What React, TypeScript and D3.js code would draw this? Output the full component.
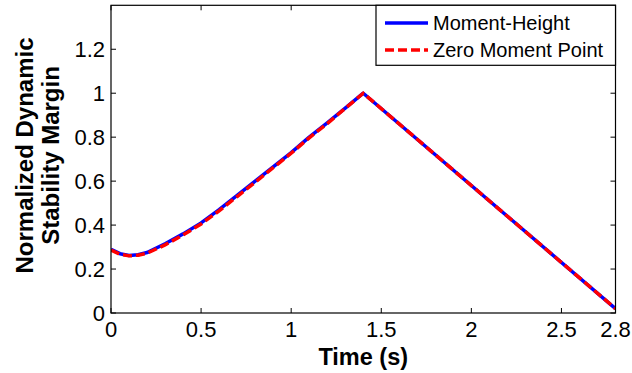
import React from "react";
import * as d3 from "d3";

const timeMH = [0, 0.05, 0.1, 0.15, 0.2, 0.3, 0.4, 0.5, 0.6, 0.7, 0.8, 0.9, 1.0, 1.1, 1.2, 1.3, 1.4, 2.8];
const valuesMH = [0.29, 0.27, 0.262, 0.265, 0.275, 0.315, 0.36, 0.41, 0.47, 0.535, 0.6, 0.665, 0.73, 0.8, 0.865, 0.932, 1.0, 0.02];
const timeZMP = [0, 0.05, 0.1, 0.15, 0.2, 0.3, 0.4, 0.5, 0.6, 0.7, 0.8, 0.9, 1.0, 1.1, 1.2, 1.3, 1.4, 2.8];
const valuesZMP = [0.286, 0.267, 0.26, 0.263, 0.272, 0.31, 0.355, 0.405, 0.465, 0.53, 0.595, 0.661, 0.727, 0.797, 0.862, 0.931, 1.0, 0.02];
const xTicks = [0, 0.5, 1, 1.5, 2, 2.5, 2.8];
const yTicks = [0, 0.2, 0.4, 0.6, 0.8, 1, 1.2];
const seriesNames = ["Moment-Height", "Zero Moment Point"];

const W = 632, H = 373;
const L = 111, R = 615.5, T = 5.3, B = 313;

export default function App() {
  const x = d3.scaleLinear().domain([0, 2.8]).range([L, R]);
  const y = d3.scaleLinear().domain([0, 1.4]).range([B, T]);
  const line = d3.line<[number, number]>().x(d => x(d[0])).y(d => y(d[1]));
  const mh = line(timeMH.map((t, i) => [t, valuesMH[i]] as [number, number])) || "";
  const zmp = line(timeZMP.map((t, i) => [t, valuesZMP[i]] as [number, number])) || "";
  const font = "Arial, 'Liberation Sans', sans-serif";
  const tk = 5;
  return (
    <svg width={W} height={H} style={{ position: "absolute", left: 0, top: 0 }} fontFamily={font}>
      <rect x={0} y={0} width={W} height={H} fill="#fff" />
      <defs>
        <clipPath id="pc"><rect x={L} y={T} width={R - L} height={B - T} /></clipPath>
      </defs>
      <g clipPath="url(#pc)">
        <path d={mh} fill="none" stroke="#0000ff" strokeWidth={3.5} strokeLinejoin="round" />
        <path d={zmp} fill="none" stroke="#ff0000" strokeWidth={3.5} strokeDasharray="9 4" />
      </g>
      <rect x={L} y={T} width={R - L} height={B - T} fill="none" stroke="#000" strokeWidth={1.2} />
      {xTicks.map(v => (
        <g key={"x" + v}>
          <line x1={x(v)} x2={x(v)} y1={B} y2={B - tk} stroke="#000" />
          <line x1={x(v)} x2={x(v)} y1={T} y2={T + tk} stroke="#000" />
          <text x={x(v)} y={337} textAnchor="middle" fontSize={22}>{String(v)}</text>
        </g>
      ))}
      {yTicks.map(v => (
        <g key={"y" + v}>
          <line x1={L} x2={L + tk} y1={y(v)} y2={y(v)} stroke="#000" />
          <line x1={R} x2={R - tk} y1={y(v)} y2={y(v)} stroke="#000" />
          <text x={105} y={y(v)} dy="0.36em" textAnchor="end" fontSize={22}>{String(v)}</text>
        </g>
      ))}
      <text x={(L + R) / 2} y={365} textAnchor="middle" fontSize={23.5} fontWeight="bold">Time (s)</text>
      <g transform="translate(0,155.5) rotate(-90)">
        <text x={0} y={32.5} textAnchor="middle" fontSize={24} fontWeight="bold">Normalized Dynamic</text>
        <text x={0} y={59} textAnchor="middle" fontSize={24} fontWeight="bold">Stability Margin</text>
      </g>
      <g>
        <rect x={376} y={T} width={R - 376} height={60} fill="#fff" stroke="#000" strokeWidth={1.2} />
        <line x1={385} x2={428} y1={23} y2={23} stroke="#0000ff" strokeWidth={3.5} />
        <line x1={385} x2={428} y1={50} y2={50} stroke="#ff0000" strokeWidth={3.5} strokeDasharray="9 4" />
        <text x={433} y={23} dy="0.36em" fontSize={20}>{seriesNames[0]}</text>
        <text x={433} y={50} dy="0.36em" fontSize={20}>{seriesNames[1]}</text>
      </g>
    </svg>
  );
}
